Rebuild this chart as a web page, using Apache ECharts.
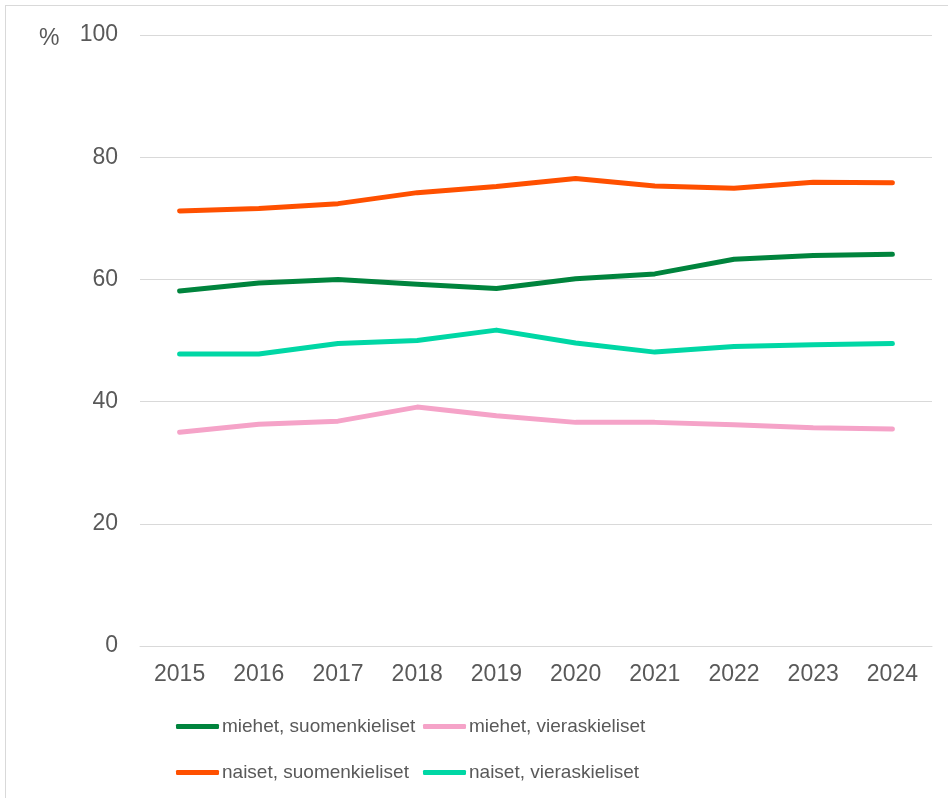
<!DOCTYPE html>
<html>
<head>
<meta charset="utf-8">
<script src="https://cdn.jsdelivr.net/npm/echarts@6/dist/echarts.min.js"></script>
<style>
  html, body { margin: 0; padding: 0; background: #fff; }
  #frame { position: absolute; left: 5px; top: 5px; width: 943px; height: 793px; border-left: 1px solid #d9d9d9; border-top: 1px solid #d9d9d9; box-sizing: border-box; }
  #chart { width: 948px; height: 798px; }
</style>
</head>
<body>
<div id="chart"></div>
<div id="frame"></div>
<script>
  // vuodet ja sarjat
  const years = ['2015', '2016', '2017', '2018', '2019', '2020', '2021', '2022', '2023', '2024'];
  const miehetSuomi = [58.1, 59.4, 60.0, 59.2, 58.5, 60.1, 60.9, 63.3, 63.9, 64.1];
  const miehetVieras = [35.0, 36.3, 36.8, 39.1, 37.7, 36.6, 36.6, 36.2, 35.7, 35.5];
  const naisetSuomi = [71.2, 71.6, 72.4, 74.2, 75.2, 76.5, 75.3, 74.9, 75.9, 75.8];
  const naisetVieras = [47.8, 47.8, 49.5, 50.0, 51.7, 49.6, 48.1, 49.0, 49.3, 49.5];
  const yTicks = [0, 20, 40, 60, 80, 100];

  const textColor = '#595959';
  const font = 'Liberation Sans, Arial, sans-serif';

  const names = ['miehet, suomenkieliset', 'miehet, vieraskieliset', 'naiset, suomenkieliset', 'naiset, vieraskieliset'];
  const colors = ['#00843d', '#f5a3c8', '#ff5000', '#00d7a5'];
  const values = [miehetSuomi, miehetVieras, naisetSuomi, naisetVieras];
  const legendPos = [[171, 712], [418, 712], [171, 758], [418, 758]];

  const myChart = echarts.init(document.getElementById('chart'));
  const option = {
    animation: false,
    textStyle: { fontFamily: font },
    grid: { left: 140, right: 16, top: 35, bottom: 152 },
    graphic: [{
      type: 'text', left: 39, top: 27,
      style: { text: '%', fontSize: 23, fill: textColor, fontFamily: font }
    }],
    legend: names.map((n, i) => ({
      data: [n],
      left: legendPos[i][0],
      top: legendPos[i][1],
      icon: 'roundRect',
      itemWidth: 43,
      itemHeight: 5,
      itemGap: 0,
      textStyle: { fontSize: 19, color: textColor, fontFamily: font, padding: [0, 0, 0, -2] }
    })),
    xAxis: {
      type: 'category',
      data: years,
      boundaryGap: true,
      axisLine: { show: true, lineStyle: { color: '#d9d9d9', width: 1 } },
      axisTick: { show: false },
      axisLabel: { fontSize: 23, color: textColor, margin: 17 }
    },
    yAxis: {
      type: 'value',
      min: yTicks[0],
      max: yTicks[yTicks.length - 1],
      interval: 20,
      axisLine: { show: false },
      axisTick: { show: false },
      axisLabel: { fontSize: 23, color: textColor, margin: 22 },
      splitLine: { lineStyle: { color: '#d9d9d9', width: 1 } }
    },
    series: names.map((n, i) => ({
      name: n,
      type: 'line',
      data: values[i],
      symbol: 'none',
      color: colors[i],
      lineStyle: { width: 5, color: colors[i], cap: 'round', join: 'round' }
    }))
  };
  myChart.setOption(option);
</script>
</body>
</html>
